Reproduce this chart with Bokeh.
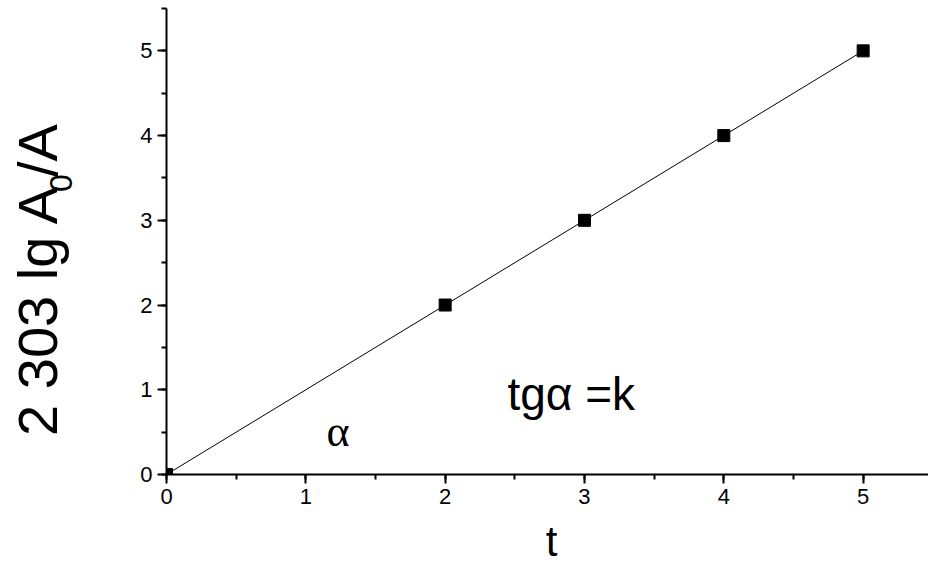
import math

from bokeh.embed import file_html
from bokeh.layouts import column, row
from bokeh.models import Label, Range1d, SingleIntervalTicker
from bokeh.plotting import figure
from bokeh.resources import INLINE

# Measured points: time t and 2.303 lg(A0/A)
t_vals = [0, 2, 3, 4, 5]
log_vals = [0, 2, 3, 4, 5]

x_ticks_step = 1
y_ticks_step = 1

x_title = "t"
y_title_main = "2 303 lg A"
y_title_sub = "0"
y_title_tail = "/A"
slope_symbol = "\u03b1"
slope_text = "tg\u03b1 =k"

FONT = "Liberation Sans"
BASE_SHIFT = 0.42  # alphabetic-baseline correction, in em

W, H = 928, 566
TITLE_W = 100      # strip holding the vertical title
BOTTOM_H = 51      # strip holding the horizontal title
CHART_H = H - BOTTOM_H


def label(fig, text, x, y, size, font=FONT, align="left", baseline="alphabetic", angle=0.0):
    fig.add_layout(
        Label(
            x=x,
            y=y,
            text=text,
            text_font=font,
            text_font_size=f"{size}px",
            text_color="black",
            text_align=align,
            text_baseline=baseline,
            angle=angle,
        )
    )


def strip(width, height):
    """Blank figure whose data space is its own pixel grid (y downwards)."""
    f = figure(
        width=width,
        height=height,
        output_backend="svg",
        toolbar_location=None,
        x_range=Range1d(0, width),
        y_range=Range1d(height, 0),
        x_axis_location=None,
        y_axis_location=None,
        min_border=0,
        background_fill_color="white",
        border_fill_color="white",
        title=None,
    )
    f.outline_line_color = None
    f.grid.visible = False
    return f


# ---- main chart -------------------------------------------------------------
p = figure(
    width=W - TITLE_W,
    height=CHART_H,
    output_backend="svg",
    toolbar_location=None,
    x_range=Range1d(0, 5.469),
    y_range=Range1d(0, 5.5),
    min_border_left=166 - TITLE_W,
    min_border_right=0,
    min_border_top=8,
    min_border_bottom=CHART_H - 474,
    background_fill_color="white",
    border_fill_color="white",
    title=None,
)
p.outline_line_color = None
p.grid.visible = False

for ax, step in ((p.xaxis[0], x_ticks_step), (p.yaxis[0], y_ticks_step)):
    ax.ticker = SingleIntervalTicker(interval=step, num_minor_ticks=2)
    ax.axis_line_width = 2
    ax.axis_line_color = "black"
    ax.major_tick_line_width = 2
    ax.minor_tick_line_width = 2
    ax.major_tick_in = 0
    ax.minor_tick_in = 0
    ax.major_tick_out = 9
    ax.minor_tick_out = 5
    ax.major_label_text_font = FONT
    ax.major_label_text_font_size = "22px"
    ax.major_label_text_color = "black"
    ax.major_label_standoff = 5

p.line(t_vals, log_vals, line_color="black", line_width=1)
p.scatter(t_vals, log_vals, marker="square", size=12, color="black")

# pixel -> data helpers for the annotations inside the chart
SX = 139.34
SY = 84.73
OX = 166.0
OY = 474.3


def dx(px):
    return (px - OX) / SX


def dy(py):
    return (OY - py) / SY


label(p, slope_symbol, dx(326), dy(450 - BASE_SHIFT * 44), 44, font="Liberation Serif")
label(p, slope_text, dx(507), dy(413 - BASE_SHIFT * 46), 46)

# ---- vertical title strip ----------------------------------------------------
yt = strip(TITLE_W, CHART_H)
up = math.pi / 2
label(yt, y_title_main, 37, 333, 56, align="center", baseline="middle", angle=up)
label(yt, y_title_sub, 60, 193, 32, align="center", baseline="middle", angle=up)
label(yt, y_title_tail, 37, 157, 56, align="center", baseline="middle", angle=up)

# ---- horizontal title strip --------------------------------------------------
xt = strip(W, BOTTOM_H)
label(xt, x_title, 551, 559 - CHART_H - BASE_SHIFT * 42, 42, align="center")

layout = column(row(yt, p, spacing=0), xt, spacing=0)
open("out.html", "w").write(file_html(layout, INLINE))
